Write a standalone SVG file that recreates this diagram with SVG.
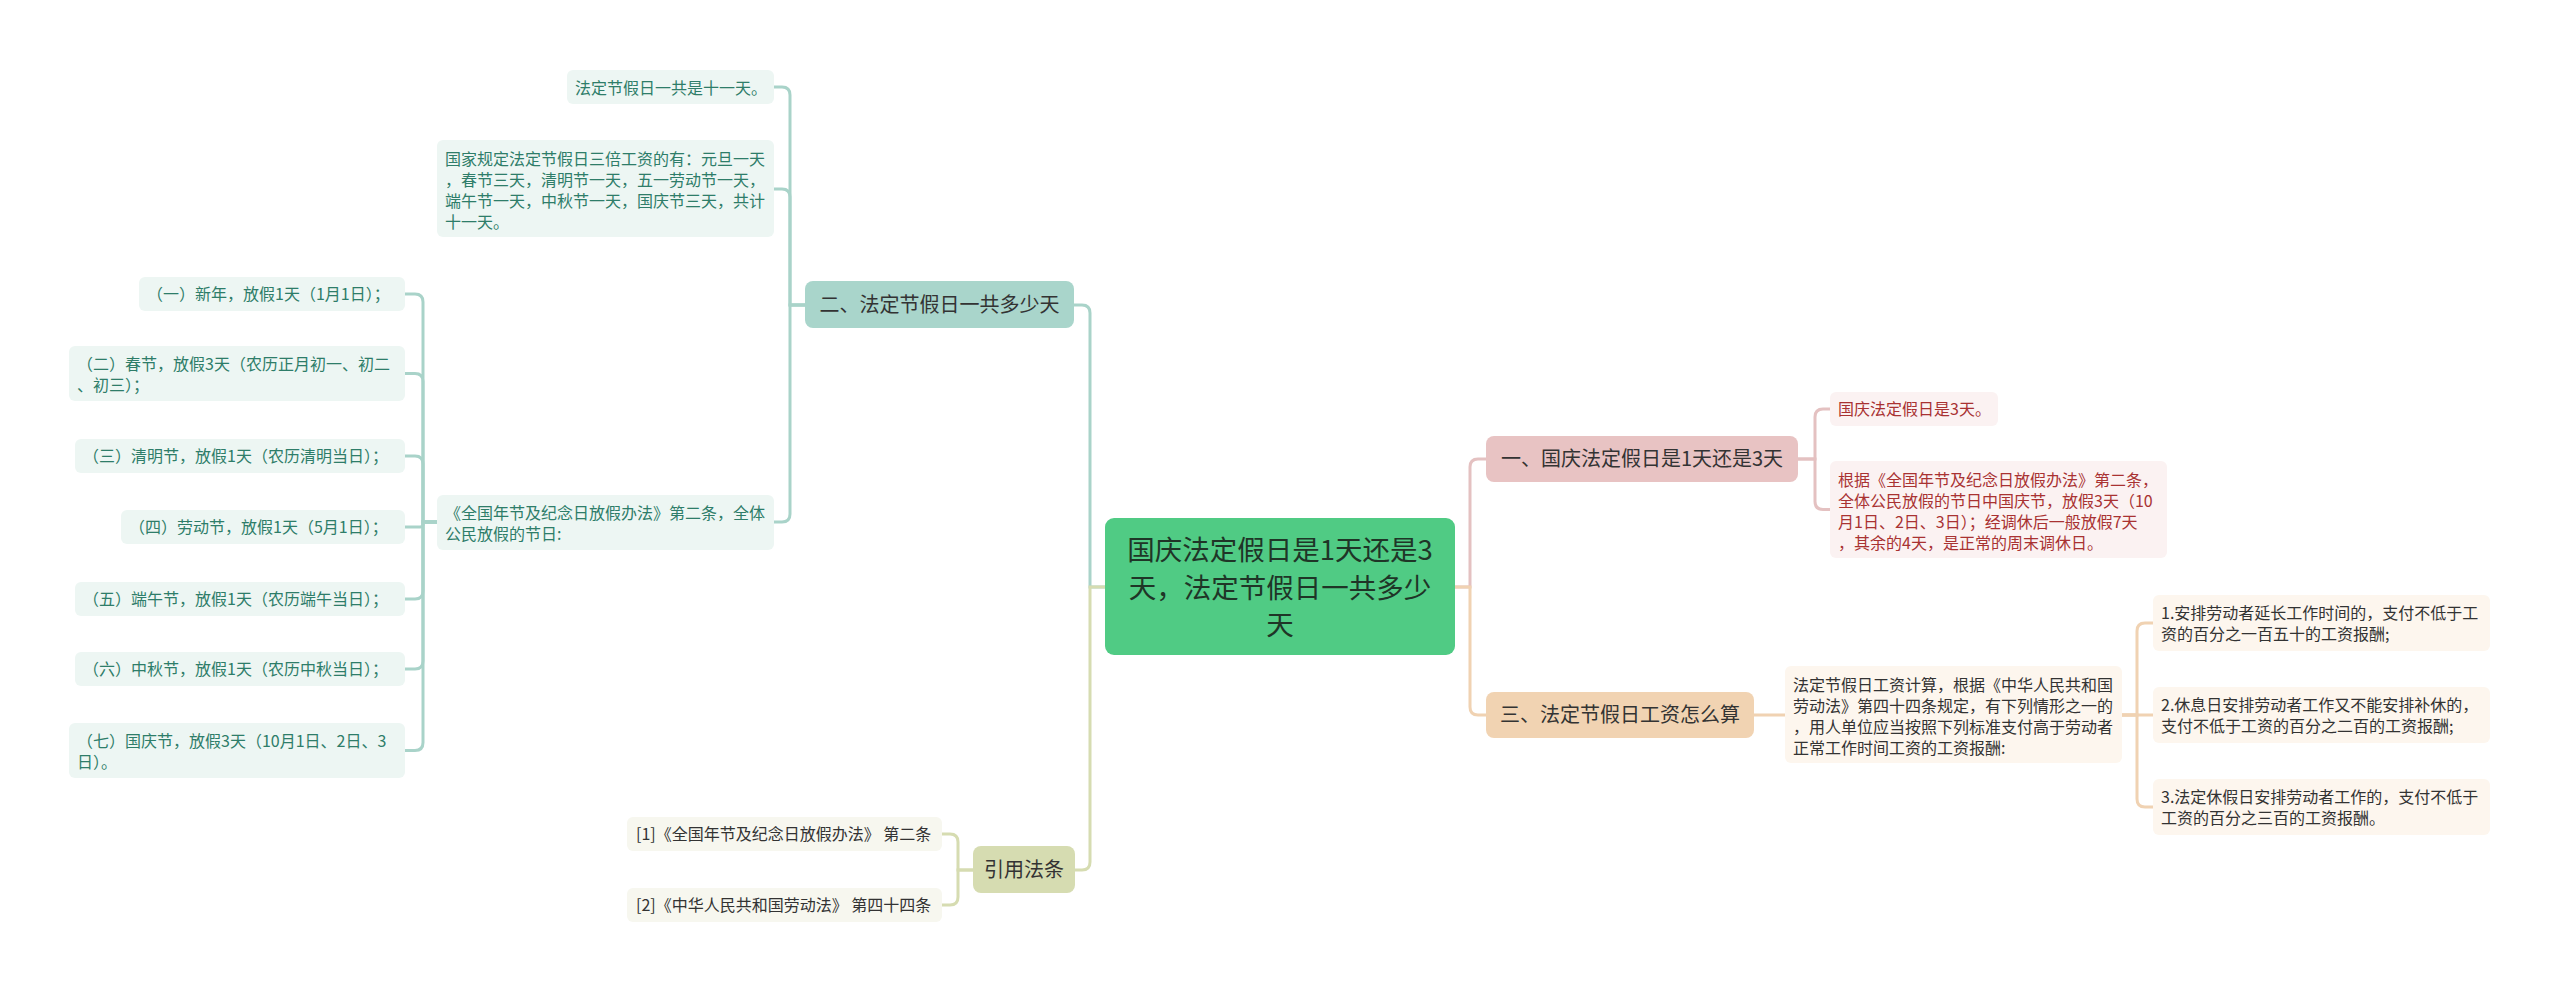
<svg xmlns="http://www.w3.org/2000/svg" width="2560" height="992" viewBox="0 0 2560 992">
<style>
text{font-family:"Noto Sans CJK SC","Noto Sans",sans-serif;}
.leaf{font-size:16px;}
.br{font-size:20px;fill:#333333;text-anchor:middle;}
.root{font-size:27.5px;fill:#1f3527;text-anchor:middle;}
.tl{fill:#edf6f3;} .tt{fill:#2e7d69;}
.ol{fill:#f7f7ef;} .ot{fill:#333333;}
.pl{fill:#fbf2f2;} .pt{fill:#a93232;}
.al{fill:#fdf6ee;} .at{fill:#333333;}
.c{fill:none;stroke-width:3;stroke-linecap:round;}
.ct{stroke:#a9d3c9;} .co{stroke:#d6dcb1;} .cp{stroke:#e4c1c1;} .ca{stroke:#f0d2b2;}
</style>
<rect width="2560" height="992" fill="#ffffff"/>
<g id="connectors">
<path class="c ct" d="M1105,587 H1090 V313 Q1090,305 1082,305 H1074"/>
<path class="c co" d="M1105,587 H1090 V862 Q1090,870 1082,870 H1075"/>
<path class="c cp" d="M1455,587 H1470 V467 Q1470,459 1478,459 H1486"/>
<path class="c ca" d="M1455,587 H1470 V707 Q1470,715 1478,715 H1486"/>
<path class="c ct" d="M805,305 H790 V95 Q790,87 782,87 H774"/>
<path class="c ct" d="M805,305 H790 V197 Q790,189 782,189 H774"/>
<path class="c ct" d="M805,305 H790 V514 Q790,522 782,522 H774"/>
<path class="c ct" d="M437,522 H423 V302 Q423,294 415,294 H405"/>
<path class="c ct" d="M437,522 H423 V381.5 Q423,373.5 415,373.5 H405"/>
<path class="c ct" d="M437,522 H423 V464 Q423,456 415,456 H405"/>
<path class="c ct" d="M437,522 H423 V524 Q423,527 420,527 H405"/>
<path class="c ct" d="M437,522 H423 V591 Q423,599 415,599 H405"/>
<path class="c ct" d="M437,522 H423 V661 Q423,669 415,669 H405"/>
<path class="c ct" d="M437,522 H423 V742.5 Q423,750.5 415,750.5 H405"/>
<path class="c co" d="M973,870 H958 V842 Q958,834 950,834 H942"/>
<path class="c co" d="M973,870 H958 V897 Q958,905 950,905 H942"/>
<path class="c cp" d="M1798,459 H1815 V417 Q1815,409 1823,409 H1830"/>
<path class="c cp" d="M1798,459 H1815 V501.5 Q1815,509.5 1823,509.5 H1830"/>
<path class="c ca" d="M1754,715 H1785"/>
<path class="c ca" d="M2122,715 H2137 V631 Q2137,623 2145,623 H2153"/>
<path class="c ca" d="M2122,715 H2153"/>
<path class="c ca" d="M2122,715 H2137 V799 Q2137,807 2145,807 H2153"/>
</g>
<g id="root">
<rect x="1105" y="518" width="350" height="137" rx="9" fill="#50cb84"/>
<text class="root" x="1280" y="560">国庆法定假日是1天还是3</text>
<text class="root" x="1280" y="598">天，法定节假日一共多少</text>
<text class="root" x="1280" y="635">天</text>
</g>
<g id="b2">
<rect x="805" y="281" width="269" height="47" rx="8" fill="#a9d5cb"/>
<text class="br" x="939.5" y="312">二、法定节假日一共多少天</text>
</g>
<g id="b2-l1">
<rect class="tl" x="567" y="70" width="207" height="34" rx="6"/>
<text class="leaf tt" x="575" y="94">法定节假日一共是十一天。</text>
</g>
<g id="b2-l2">
<rect class="tl" x="437" y="140" width="337" height="97" rx="6"/>
<text class="leaf tt" x="445" y="165">国家规定法定节假日三倍工资的有：元旦一天</text>
<text class="leaf tt" x="445" y="186">，春节三天，清明节一天，五一劳动节一天，</text>
<text class="leaf tt" x="445" y="207">端午节一天，中秋节一天，国庆节三天，共计</text>
<text class="leaf tt" x="445" y="228">十一天。</text>
</g>
<g id="b2-l3">
<rect class="tl" x="437" y="495" width="337" height="55" rx="6"/>
<text class="leaf tt" x="445" y="519">《全国年节及纪念日放假办法》第二条，全体</text>
<text class="leaf tt" x="445" y="540">公民放假的节日:</text>
</g>
<g id="h1">
<rect class="tl" x="139" y="277" width="266" height="34" rx="6"/>
<text class="leaf tt" x="147" y="300">（一）新年，放假1天（1月1日）；</text>
</g>
<g id="h2">
<rect class="tl" x="69" y="346" width="336" height="55" rx="6"/>
<text class="leaf tt" x="77" y="370">（二）春节，放假3天（农历正月初一、初二</text>
<text class="leaf tt" x="77" y="391">、初三）；</text>
</g>
<g id="h3">
<rect class="tl" x="75" y="439" width="330" height="34" rx="6"/>
<text class="leaf tt" x="83" y="462">（三）清明节，放假1天（农历清明当日）；</text>
</g>
<g id="h4">
<rect class="tl" x="121" y="510" width="284" height="34" rx="6"/>
<text class="leaf tt" x="129" y="533">（四）劳动节，放假1天（5月1日）；</text>
</g>
<g id="h5">
<rect class="tl" x="75" y="582" width="330" height="34" rx="6"/>
<text class="leaf tt" x="83" y="605">（五）端午节，放假1天（农历端午当日）；</text>
</g>
<g id="h6">
<rect class="tl" x="75" y="652" width="330" height="34" rx="6"/>
<text class="leaf tt" x="83" y="675">（六）中秋节，放假1天（农历中秋当日）；</text>
</g>
<g id="h7">
<rect class="tl" x="69" y="723" width="336" height="55" rx="6"/>
<text class="leaf tt" x="77" y="747">（七）国庆节，放假3天（10月1日、2日、3</text>
<text class="leaf tt" x="77" y="768">日）。</text>
</g>
<g id="ref">
<rect x="973" y="846" width="102" height="47" rx="8" fill="#d6dcb1"/>
<text class="br" x="1024" y="877">引用法条</text>
</g>
<g id="ref1">
<rect class="ol" x="627" y="817" width="315" height="34" rx="6"/>
<text class="leaf ot" x="636" y="840">[1]《全国年节及纪念日放假办法》 第二条</text>
</g>
<g id="ref2">
<rect class="ol" x="627" y="888" width="315" height="34" rx="6"/>
<text class="leaf ot" x="636" y="911">[2]《中华人民共和国劳动法》 第四十四条</text>
</g>
<g id="b1">
<rect x="1486" y="436" width="312" height="46" rx="8" fill="#e8c3c3"/>
<text class="br" x="1642" y="466">一、国庆法定假日是1天还是3天</text>
</g>
<g id="b1-l1">
<rect class="pl" x="1830" y="392" width="168" height="34" rx="6"/>
<text class="leaf pt" x="1838" y="415">国庆法定假日是3天。</text>
</g>
<g id="b1-l2">
<rect class="pl" x="1830" y="461" width="337" height="97" rx="6"/>
<text class="leaf pt" x="1838" y="486">根据《全国年节及纪念日放假办法》第二条，</text>
<text class="leaf pt" x="1838" y="507">全体公民放假的节日中国庆节，放假3天（10</text>
<text class="leaf pt" x="1838" y="528">月1日、2日、3日）；经调休后一般放假7天</text>
<text class="leaf pt" x="1838" y="549">，其余的4天，是正常的周末调休日。</text>
</g>
<g id="b3">
<rect x="1486" y="692" width="268" height="46" rx="8" fill="#f1d3b2"/>
<text class="br" x="1620" y="722">三、法定节假日工资怎么算</text>
</g>
<g id="b3-l1">
<rect class="al" x="1785" y="666" width="337" height="97" rx="6"/>
<text class="leaf at" x="1793" y="691">法定节假日工资计算，根据《中华人民共和国</text>
<text class="leaf at" x="1793" y="712">劳动法》第四十四条规定，有下列情形之一的</text>
<text class="leaf at" x="1793" y="733">，用人单位应当按照下列标准支付高于劳动者</text>
<text class="leaf at" x="1793" y="754">正常工作时间工资的工资报酬:</text>
</g>
<g id="c1">
<rect class="al" x="2153" y="595" width="337" height="56" rx="6"/>
<text class="leaf at" x="2161" y="619">1.安排劳动者延长工作时间的，支付不低于工</text>
<text class="leaf at" x="2161" y="640">资的百分之一百五十的工资报酬;</text>
</g>
<g id="c2">
<rect class="al" x="2153" y="687" width="337" height="56" rx="6"/>
<text class="leaf at" x="2161" y="711">2.休息日安排劳动者工作又不能安排补休的，</text>
<text class="leaf at" x="2161" y="732">支付不低于工资的百分之二百的工资报酬;</text>
</g>
<g id="c3">
<rect class="al" x="2153" y="779" width="337" height="56" rx="6"/>
<text class="leaf at" x="2161" y="803">3.法定休假日安排劳动者工作的，支付不低于</text>
<text class="leaf at" x="2161" y="824">工资的百分之三百的工资报酬。</text>
</g>
</svg>
